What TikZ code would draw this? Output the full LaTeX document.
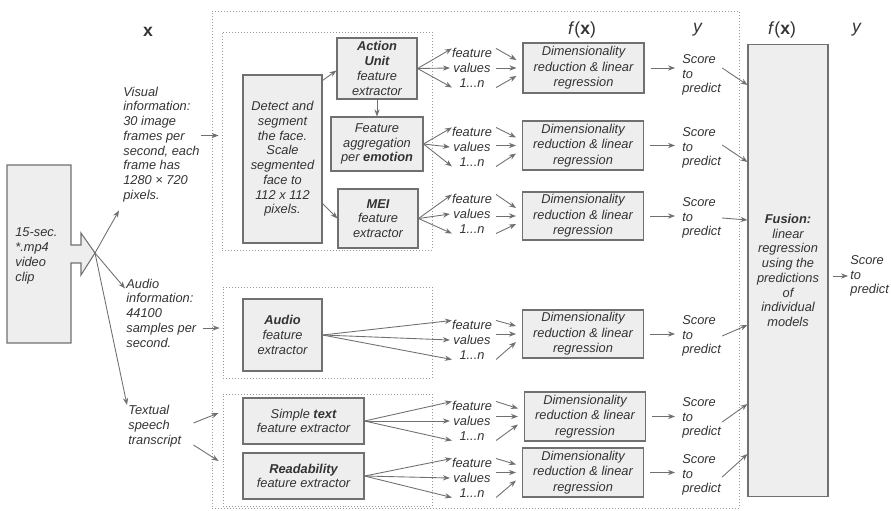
\documentclass[tikz,border=0pt]{standalone}
\usepackage{fontspec}
\setmainfont{Liberation Sans}
\usetikzlibrary{arrows.meta}
\usetikzlibrary{positioning}
\usetikzlibrary{calc}

\definecolor{boxfill}{HTML}{EEEEEE}
\definecolor{boxline}{HTML}{707070}
\definecolor{txtgray}{HTML}{333333}
\definecolor{arrgray}{HTML}{707070}

\begin{document}
\begin{tikzpicture}[
                x=0.02cm, y=-0.02cm,
                every node/.style={font=\fontsize{7.3}{8.4}\selectfont\itshape, text=txtgray, inner sep=1pt},
                stage/.style={draw=boxline, fill=boxfill, line width=0.6pt, align=center},
                dimbox/.style={stage, font=\fontsize{7.3}{8.9}\selectfont\itshape},
                dotbox/.style={draw=gray!80, line width=0.5pt, dash pattern=on 0.5pt off 1.2pt, inner sep=0pt},
                lbl/.style={align=left, anchor=west, inner sep=0pt},
                fv/.style={align=center},
                head/.style={font=\fontsize{10}{12}\selectfont\upshape},
                arr/.style={->, draw=arrgray, line width=0.5pt},
                >={Stealth[length=4pt,width=3pt]}
            ]
            \useasboundingbox (0,0) rectangle (891,510);

            % Dotted frames
            \node[dotbox, minimum width=10.54cm, minimum height=9.94cm] (fall) at (475.5,259.5) {};
            \node[dotbox, minimum width=4.2cm, minimum height=4.36cm] (fvis) at (327,141) {};
            \node[dotbox, minimum width=4.18cm, minimum height=1.82cm] (faud) at (327.5,332.5) {};
            \node[dotbox, minimum width=4.18cm, minimum height=2.24cm] (ftxt) at (327.5,450) {};

            % Headers
            \node[head] (hx) at (148,32) {\textbf{x}};
            \node[head] (hf1) at (582,30) {\textit{f}(\textbf{x})};
            \node[head] (hy1) at (698,30) {\textit{y}};
            \node[head] (hf2) at (782,30) {\textit{f}(\textbf{x})};
            \node[head] (hy2) at (857,30) {\textit{y}};

            % Video clip
            \draw[draw=boxline, fill=boxfill, line width=0.6pt]
                (7,165) -- (71,165) -- (71,245) -- (81,245) -- (81,233) -- (95,253)
                -- (81,275) -- (81,263) -- (71,263) -- (71,343) -- (7,343) -- cycle;
            \coordinate (tip) at (95,253);
            \node[lbl] (clipt) at (15,256) {15-sec.\\*.mp4\\video\\clip};

            % Inputs
            \node[lbl] (vis) at (123,144.5) {Visual\\information:\\30 image\\frames per\\second, each\\frame has\\1280 × 720\\pixels.};
            \node[lbl] (aud) at (126,313) {Audio\\information:\\44100\\samples per\\second.};
            \node[lbl] (txt) at (128,426) {Textual\\speech\\transcript};

            % Extractors
            \node[stage, minimum width=1.58cm, minimum height=3.36cm] (detect) at (282.5,159) {Detect and\\segment\\the face.\\Scale\\segmented\\face to\\112 x 112\\pixels.};
            \node[stage, minimum width=1.6cm, minimum height=1.22cm] (au) at (377,68.5) {\textbf{Action}\\\textbf{Unit}\\feature\\extractor};
            \node[stage, minimum width=1.84cm, minimum height=1.08cm] (agg) at (377,144) {Feature\\aggregation\\per \textbf{emotion}};
            \node[stage, minimum width=1.6cm, minimum height=1.18cm] (mei) at (378,218.5) {\textbf{MEI}\\feature\\extractor};
            \node[stage, minimum width=1.58cm, minimum height=1.44cm] (audio) at (282.5,335) {\textbf{Audio}\\feature\\extractor};
            \node[stage, minimum width=2.42cm, minimum height=0.92cm] (simple) at (303.5,421) {Simple \textbf{text}\\feature extractor};
            \node[stage, minimum width=2.42cm, minimum height=0.92cm] (read) at (303.5,476) {\textbf{Readability}\\feature extractor};

            % Feature values, models, scores
            \foreach \i/\y in {1/68, 2/147, 3/214, 4/340, 5/421, 6/478}
                \node[fv] (fv\i) at (472,\y) {feature\\values\\1...n};
            \foreach \i/\x/\y/\h in {1/583.5/68/1.0, 2/583/145.5/0.98, 3/583/216/0.96, 4/583/334/0.96, 5/585/416.5/0.98, 6/583/472.5/0.98}
                \node[dimbox, minimum width=2.42cm, minimum height=\h cm] (dim\i) at (\x,\y) {Dimensionality\\reduction \& linear\\regression};
            \foreach \i/\y in {1/75, 2/148, 3/218, 4/336, 5/418, 6/475}
                \node[lbl] (sc\i) at (682,\y) {Score\\to\\predict};

            % Fusion
            \node[stage, minimum width=1.6cm, minimum height=9.06cm] (fusion) at (788,270.5) {\textbf{Fusion:}\\linear\\regression\\using the\\predictions\\of\\individual\\models};
            \node[lbl] (out) at (850,276) {Score\\to\\predict};

            % Clip to inputs
            \draw[arr] (tip) -- ($(vis.south west)+(-4,8)$);
            \draw[arr] (tip) -- ($(aud.north west)+(-1,10)$);
            \draw[arr] (tip) -- ($(txt.north west)+(-1,0)$);

            % Inputs to frames
            \draw[arr] ($(vis.east)+(1,-9)$) -- ($(vis.east -| fvis.west)+(-3,-9)$);
            \draw[arr] ($(aud.east)+(6,15)$) -- ($(aud.east -| faud.west)+(-3,15)$);
            \draw[arr] ($(txt.east)+(12,-3)$) -- ($(ftxt.west |- simple.west)+(-4,-8)$);
            \draw[arr] ($(txt.east)+(12,19)$) -- ($(ftxt.west |- read.west)+(-4,-15)$);

            % Inside the visual frame
            \draw[arr] ($(detect.north east)+(0,6)$) -- ($(au.west)+(0,2)$);
            \draw[arr] ($(detect.south east)+(0,-40)$) -- (mei.west);
            \draw[arr] (au) -- (agg);

            % Extractors to feature values
            \foreach \s/\i in {au/1, agg/2, mei/3, audio/4, simple/5, read/6} {
                \draw[arr] (\s.east) -- ($(fv\i.north west)+(2,2)$);
                \draw[arr] (\s.east) -- (fv\i.west);
                \draw[arr] (\s.east) -- ($(fv\i.south west)+(2,-2)$);
            }

            % Feature values to models, models to scores
            \foreach \i in {1,...,6} {
                \draw[arr] ($(fv\i.north east)+(2,2)$) -- ($(dim\i.west)+(-6,-8)$);
                \draw[arr] ($(fv\i.east |- dim\i.west)+(2,0)$) -- ($(dim\i.west)+(-6,0)$);
                \draw[arr] ($(fv\i.south east)+(2,-2)$) -- ($(dim\i.west)+(-6,8)$);
                \draw[arr] ($(dim\i.east)+(6,0)$) -- ($(dim\i.east -| sc\i.west)+(-7,0)$);
            }

            % Scores to fusion
            \foreach \i/\a/\b in {1/-7/10, 2/-3/14, 3/0/2, 4/0/-11, 5/4/-14, 6/2/-21}
                \draw[arr] ($(sc\i.east)+(1,\a)$) -- ($(fusion.west |- sc\i.east)+(0,\b)$);
            \draw[arr] ($(fusion.east |- out.west)+(4,0)$) -- ($(out.west)+(-2,0)$);

        \end{tikzpicture}
\end{document}
